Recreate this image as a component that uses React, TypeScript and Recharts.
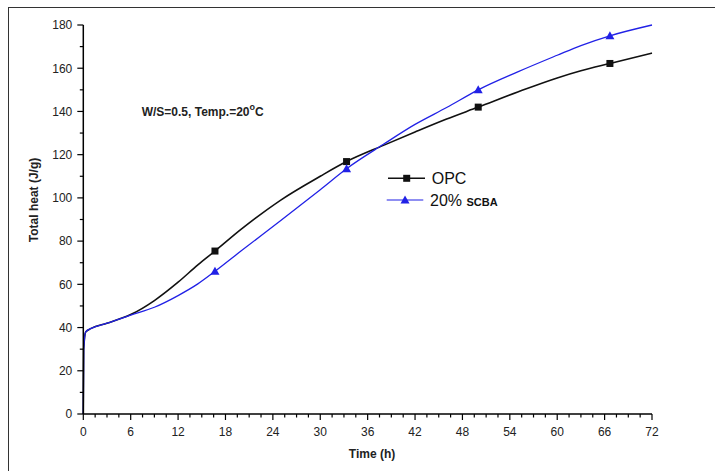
import { LineChart, Line, XAxis, YAxis, Legend } from 'recharts'

const times = [0, 0.05, 0.3, 1, 3, 6, 9, 12, 14.5, 16.67, 20, 25, 30, 33.33, 38, 42, 46, 50, 55, 60, 63, 66.67, 72]
const opc = [0, 30, 38, 39.6, 42, 46, 52.5, 61, 69, 75.4, 85.5, 99, 110, 116.8, 124.3, 130.5, 136.5, 142, 149, 155.5, 158.8, 162.2, 167]
const scba = [0, 30, 38, 39.6, 42, 45.8, 49.4, 54.8, 60.2, 66, 75.5, 89.5, 103.8, 113.5, 124.8, 134, 141.8, 150, 158.3, 166, 170.5, 175, 180]
const markerTimes = [16.67, 33.33, 50, 66.67]

const xTicks = Array.from({ length: 49 }, (_, i) => i * 1.5)
const yTicks = Array.from({ length: 19 }, (_, i) => i * 10)

const data = times.map((t, i) => ({ t, opc: opc[i], scba: scba[i] }))

const BLACK = '#111'
const BLUE = '#2121e6'

const XTick = (props: any) => {
  const { x, y, payload } = props
  const major = payload.value % 6 === 0
  return (
    <g>
      <line x1={x} x2={x} y1={y} y2={y + (major ? 6 : 3.5)} stroke="#000" strokeWidth={1.2} />
      {major && (
        <text x={x} y={y + 22} textAnchor="middle" fontSize={12} fill="#222">
          {payload.value}
        </text>
      )}
    </g>
  )
}

const YTick = (props: any) => {
  const { x, y, payload } = props
  const major = payload.value % 20 === 0
  return (
    <g>
      <line x1={x - (major ? 6 : 3.5)} x2={x} y1={y} y2={y} stroke="#000" strokeWidth={1.2} />
      {major && (
        <text x={x - 11} y={y + 4.3} textAnchor="end" fontSize={12} fill="#222">
          {payload.value}
        </text>
      )}
    </g>
  )
}

const makeDot = (kind: 'square' | 'triangle', color: string) => (p: any) => {
  const { cx, cy, payload, index } = p
  if (!markerTimes.includes(payload.t)) return <g key={`d-${kind}-${index}`} />
  if (kind === 'square') {
    return <rect key={`d-${kind}-${index}`} x={cx - 3.5} y={cy - 3.5} width={7} height={7} fill={color} />
  }
  return <path key={`d-${kind}-${index}`} d={`M${cx},${cy - 4.5} L${cx + 4.5},${cy + 3.5} L${cx - 4.5},${cy + 3.5} Z`} fill={color} />
}

const LegendBox = () => (
  <svg width={150} height={46} style={{ overflow: 'visible' }}>
    <line x1={8} x2={45} y1={12.3} y2={12.3} stroke={BLACK} strokeWidth={1.5} />
    <rect x={23.2} y={8.8} width={7} height={7} fill={BLACK} />
    <text x={51.7} y={18} fontSize={16} fill="#111">OPC</text>
    <line x1={6.7} x2={43.3} y1={34} y2={34} stroke={BLUE} strokeWidth={1.2} />
    <path d="M25,29.5 L29.5,37.5 L20.5,37.5 Z" fill={BLUE} />
    <text x={50} y={39.5} fontSize={16} fill="#111">
      20%{' '}
      <tspan fontSize={11} fontWeight="bold">SCBA</tspan>
    </text>
  </svg>
)

export default function App() {
  return (
    <div
      style={{
        position: 'absolute',
        left: 0,
        top: 0,
        width: 715,
        height: 471,
        overflow: 'hidden',
        background: '#fff',
        fontFamily: '"Liberation Sans", Arial, sans-serif',
      }}
    >
      <div
        style={{
          position: 'absolute',
          left: 8,
          top: 7,
          width: 800,
          height: 600,
          borderLeft: '1.5px solid #333',
          borderTop: '1.5px solid #333',
        }}
      />
      <div style={{ position: 'absolute', left: 0, top: 0 }}>
        <LineChart width={715} height={471} data={data} margin={{ top: 25, right: 63, bottom: 0, left: 0 }}>
          <XAxis
            dataKey="t"
            type="number"
            domain={[0, 72]}
            ticks={xTicks}
            interval={0}
            tickSize={0}
            tickMargin={0}
            tickLine={false}
            tick={<XTick />}
            height={57}
            axisLine={{ stroke: '#000', strokeWidth: 1.5 }}
          />
          <YAxis
            type="number"
            domain={[0, 180]}
            ticks={yTicks}
            interval={0}
            tickSize={0}
            tickMargin={0}
            tickLine={false}
            tick={<YTick />}
            width={83.3}
            axisLine={{ stroke: '#000', strokeWidth: 1.5 }}
          />
          <Legend
            layout="vertical"
            align="center"
            verticalAlign="middle"
            content={<LegendBox />}
            wrapperStyle={{ left: 380, top: 166, width: 150 }}
          />
          <Line
            dataKey="opc"
            type="monotone"
            stroke={BLACK}
            strokeWidth={1.6}
            dot={makeDot('square', BLACK)}
            activeDot={false}
            isAnimationActive={false}
          />
          <Line
            dataKey="scba"
            type="monotone"
            stroke={BLUE}
            strokeWidth={1.3}
            dot={makeDot('triangle', BLUE)}
            activeDot={false}
            isAnimationActive={false}
          />
        </LineChart>
      </div>
      <svg width={715} height={471} style={{ position: 'absolute', left: 0, top: 0, pointerEvents: 'none' }}>
        <text x={141.7} y={116} fontSize={12} fontWeight="bold" fill="#222">
          W/S=0.5, Temp.=20
          <tspan fontSize={9} dy={-6}>o</tspan>
          <tspan dy={6}>C</tspan>
        </text>
        <text x={372} y={457.5} fontSize={12} fontWeight="bold" textAnchor="middle" fill="#222">
          Time (h)
        </text>
        <text
          x={0}
          y={0}
          fontSize={12}
          fontWeight="bold"
          textAnchor="middle"
          fill="#222"
          transform="translate(37.5,200) rotate(-90)"
        >
          Total heat (J/g)
        </text>
      </svg>
    </div>
  )
}
